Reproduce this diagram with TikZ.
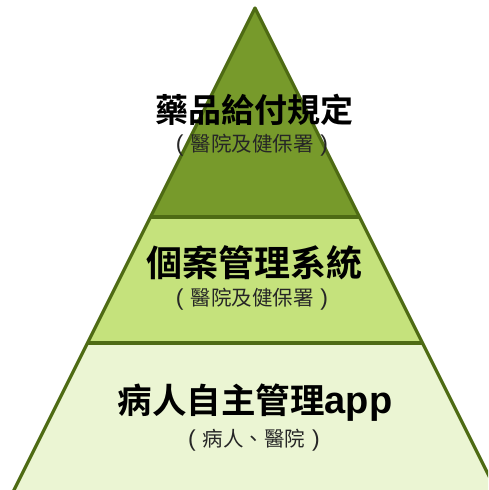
\documentclass[tikz,border=0pt]{standalone}
\usepackage{fontspec}
\newfontfamily\cjk{Noto Sans CJK TC}
\newfontfamily\cjkb{Noto Sans CJK TC Bold}
\newfontfamily\latb{Liberation Sans Bold}
\newfontfamily\latr{Liberation Sans}
\definecolor{topg}{HTML}{779A2B}
\definecolor{midg}{HTML}{C5E27C}
\definecolor{botg}{HTML}{EBF5D3}
\definecolor{edgeg}{HTML}{4E6B14}
\newcommand{\lp}{\makebox[1.05em][c]{\latr\fontsize{23}{24}\selectfont(}}
\newcommand{\rp}{\makebox[1.05em][c]{\latr\fontsize{23}{24}\selectfont)}}
\tikzset{
  title/.style={font=\cjkb\fontsize{33}{36}\selectfont, text=black, inner sep=0pt},
  sub/.style={font=\cjk\fontsize{20.5}{22}\selectfont, text=black!85, inner sep=0pt},
  edge/.style={draw=edgeg, line width=3.2pt, line join=round}
}
\begin{document}
\begin{tikzpicture}[x=1pt,y=-1pt]
\useasboundingbox (0,0) rectangle (488,490);
\clip (0,0) rectangle (488,490);
\coordinate (A) at (255,8);
\coordinate (L1) at (150.5,217);
\coordinate (R1) at (359.5,217);
\coordinate (L2) at (87.5,343);
\coordinate (R2) at (422.5,343);
\coordinate (L3) at (9,500);
\coordinate (R3) at (501,500);
\fill[topg] (A) -- (R1) -- (L1) -- cycle;
\fill[midg] (L1) -- (R1) -- (R2) -- (L2) -- cycle;
\fill[botg] (L2) -- (R2) -- (R3) -- (L3) -- cycle;
\draw[edge] (L1) -- (R1);
\draw[edge] (L2) -- (R2);
\draw[edge] (L3) -- (A) -- (R3);
\node[title] (t1) at (254,110) {藥品給付規定};
\node[sub] (s1) at (252,145) {\lp 醫院及健保署\rp};
\node[title, font=\cjkb\fontsize{36}{38}\selectfont] (t2) at (254,263) {個案管理系統};
\node[sub] (s2) at (252,299) {\lp 醫院及健保署\rp};
\node[title, font=\cjkb\fontsize{34.5}{38}\selectfont] (t3) at (255,403) {病人自主管理{\latb\fontsize{38}{40}\selectfont app}};
\node[sub] (s3) at (254,440) {\lp 病人、醫院\rp};
\end{tikzpicture}
\end{document}
